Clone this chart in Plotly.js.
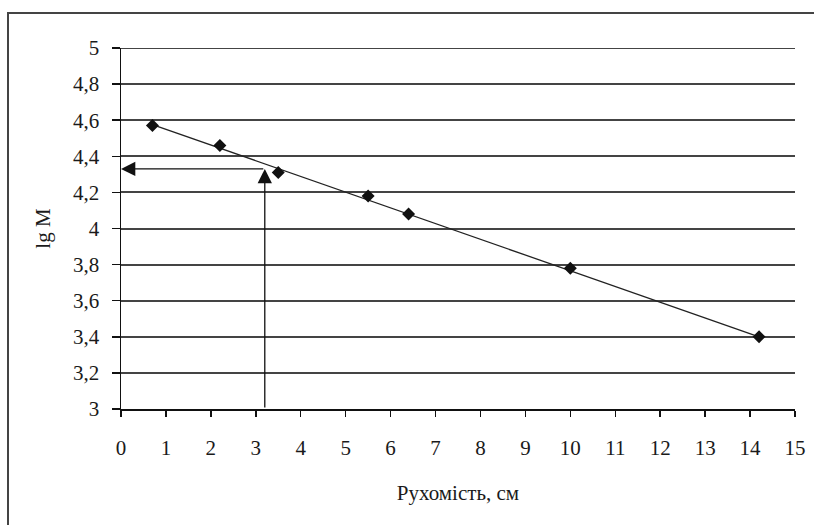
<!DOCTYPE html>
<html>
<head>
<meta charset="utf-8">
<script src="https://cdn.plot.ly/plotly-3.0.1.min.js"></script>
<style>
  html, body { margin: 0; padding: 0; background: #fff; }
  #chart { width: 814px; height: 525px; }
</style>
</head>
<body>
<div id="chart"></div>
<script>
// Data
const mobility = [0.7, 2.2, 3.5, 5.5, 6.4, 10, 14.2];      // Рухомість, см
const lgM      = [4.57, 4.46, 4.31, 4.18, 4.08, 3.78, 3.40];

// Linear trend line endpoints
const trendX = [0.7, 14.2];
const trendY = [4.576, 3.40];

// Reading of the unknown sample
const readX = [3.2];
const readY = [4.33];

const xTickVals   = [0,1,2,3,4,5,6,7,8,9,10,11,12,13,14,15];
const xTickLabels = ['0','1','2','3','4','5','6','7','8','9','10','11','12','13','14','15'];
const yTickVals   = [3, 3.2, 3.4, 3.6, 3.8, 4, 4.2, 4.4, 4.6, 4.8, 5];
const yTickLabels = ['3','3,2','3,4','3,6','3,8','4','4,2','4,4','4,6','4,8','5'];

const font = { family: '"Liberation Serif", "Times New Roman", serif', size: 21, color: '#1a1a1a' };

const traces = [
  {
    x: trendX, y: trendY, mode: 'lines', type: 'scatter',
    line: { color: '#222', width: 1.3 }, hoverinfo: 'skip', showlegend: false
  },
  {
    x: mobility, y: lgM, mode: 'markers', type: 'scatter',
    marker: { symbol: 'diamond', size: 10, color: '#111' }, showlegend: false
  }
];

const layout = {
  width: 814, height: 525,
  margin: { l: 121, r: 19, t: 48, b: 116 },
  paper_bgcolor: '#fff', plot_bgcolor: '#fff',
  font: font,
  showlegend: false,
  xaxis: {
    range: [0, 15], tickvals: xTickVals, ticktext: xTickLabels,
    showgrid: false, zeroline: false,
    showline: true, linecolor: '#111', linewidth: 1.5,
    ticks: 'outside', ticklen: 6, tickwidth: 1.5, tickcolor: '#111',
    ticklabelstandoff: 13,
    tickfont: font,
    title: { text: 'Рухомість, см', font: font, standoff: 26 },
    automargin: false, fixedrange: true
  },
  yaxis: {
    range: [3, 5], tickvals: yTickVals, ticktext: yTickLabels,
    showgrid: true, gridcolor: '#444', gridwidth: 2,
    zeroline: false,
    showline: true, linecolor: '#111', linewidth: 1.5,
    ticks: 'outside', ticklen: 8, tickwidth: 1.5, tickcolor: '#111',
    ticklabelstandoff: 8,
    tickfont: font,
    title: { text: 'lg M', font: font, standoff: 16 },
    automargin: false, fixedrange: true
  },
  shapes: [
    { type: 'rect', xref: 'paper', yref: 'paper',
      x0: (8 - 121) / 674, x1: 1.06, y0: -0.4, y1: 1 + (48 - 13) / 361,
      line: { color: '#444', width: 2 }, fillcolor: 'rgba(0,0,0,0)', layer: 'below' },
    { type: 'line', xref: 'x', yref: 'y', x0: 0, x1: 15, y0: 5, y1: 5,
      line: { color: '#444', width: 2 }, layer: 'below' }
  ],
  annotations: [
    { x: readX[0], y: readY[0], ax: readX[0], ay: 3, xref: 'x', yref: 'y', axref: 'x', ayref: 'y',
      text: '', showarrow: true, arrowhead: 2, arrowsize: 2.2, arrowwidth: 1.3, arrowcolor: '#111', standoff: 0 },
    { x: 0, y: readY[0], ax: readX[0], ay: readY[0], xref: 'x', yref: 'y', axref: 'x', ayref: 'y',
      text: '', showarrow: true, arrowhead: 2, arrowsize: 2.2, arrowwidth: 1.3, arrowcolor: '#111', standoff: 0 }
  ]
};

Plotly.newPlot('chart', traces, layout, { displayModeBar: false, staticPlot: true });
</script>
</body>
</html>
